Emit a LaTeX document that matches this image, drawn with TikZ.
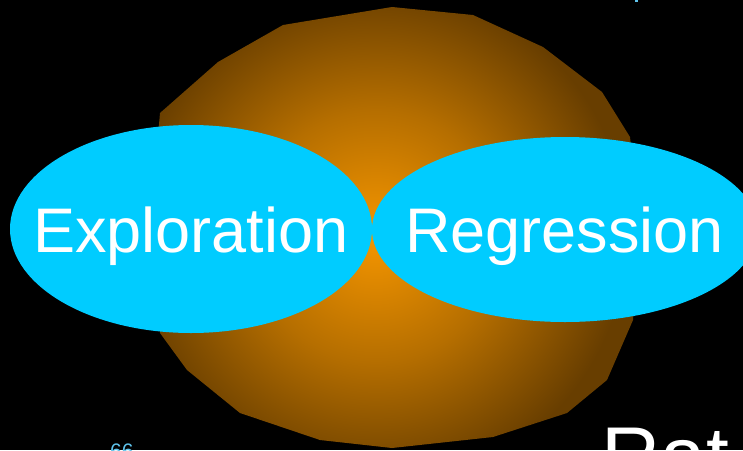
\documentclass[tikz,border=0pt]{standalone}
\usepackage{fontspec}
\setmainfont{Liberation Sans}
\usetikzlibrary{shapes.geometric}
\definecolor{bgblack}{RGB}{0,0,0}
\definecolor{blobcyan}{RGB}{0,204,255}
\definecolor{orbin}{RGB}{245,150,0}
\definecolor{orbout}{RGB}{104,62,0}
\definecolor{pagenum}{RGB}{95,195,235}
\pgfdeclareradialshading{orbshade}{\pgfpoint{0bp}{0bp}}{color(0bp)=(orbin); color(11bp)=(orbin!55!orbout); color(22bp)=(orbout); color(50bp)=(orbout)}
\tikzset{
  blob/.style={ellipse, fill=blobcyan, draw=none, inner sep=0pt},
  lbl/.style={text=white, inner sep=0pt, anchor=base, font=\fontsize{63}{63}\selectfont},
}
\begin{document}
\begin{tikzpicture}[x=1pt,y=-1pt]
\fill[bgblack] (0,0) rectangle (743,450);
\useasboundingbox (0,0) rectangle (743,450);
% orb polygon with radial shading
\begin{scope}
\clip (392,7) -- (473,15) -- (543,47) -- (602,92) -- (630,137) -- (640,228) -- (633,320) -- (607,380) -- (567,413) -- (493,437) -- (392,448) -- (320,440) -- (240,413) -- (187,370) -- (160,333) -- (150,228) -- (160,113) -- (218,62) -- (283,25) -- cycle;
\shade[shading=orbshade] (376,236) circle (285);
\end{scope}
% ellipses
\node[blob, minimum width=362pt, minimum height=208pt] (expl) at (191,229) {};
\node[blob, minimum width=386pt, minimum height=185pt] (regr) at (565,229.5) {};
\node[lbl] (explt) at (191,252) {Exploration};
\node[lbl] (regrt) at (564.5,252) {Regression};
% page number and cut-off title
\node[text=pagenum, inner sep=0pt, anchor=base west, font=\fontsize{21}{21}\selectfont] (pn) at (110,458) {66};
\node[text=white, inner sep=0pt, anchor=base west, font=\fontsize{82}{82}\selectfont] (rat) at (601.5,484) {Rat};
\fill[pagenum] (635,0) rectangle (638,2);
\end{tikzpicture}
\end{document}
